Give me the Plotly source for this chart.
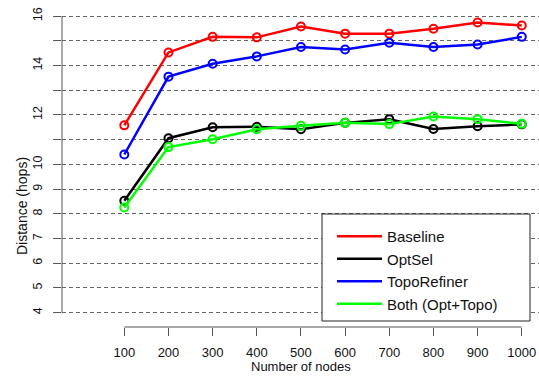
import plotly.graph_objects as go

# ---- data ----
nodes = [100, 200, 300, 400, 500, 600, 700, 800, 900, 1000]
baseline = [11.58, 14.53, 15.16, 15.14, 15.58, 15.29, 15.29, 15.49, 15.74, 15.62]
optsel = [8.53, 11.06, 11.50, 11.52, 11.42, 11.68, 11.83, 11.43, 11.54, 11.62]
toporefiner = [10.40, 13.55, 14.07, 14.37, 14.75, 14.65, 14.92, 14.75, 14.85, 15.16]
both = [8.26, 10.70, 11.02, 11.42, 11.56, 11.68, 11.63, 11.94, 11.83, 11.64]

series_names = ["Baseline", "OptSel", "TopoRefiner", "Both (Opt+Topo)"]
series_values = [baseline, optsel, toporefiner, both]
series_colors = ["#FF0000", "#000000", "#0000FF", "#00FF00"]

y_tickvals = list(range(4, 17))
y_ticktext = ["" if v in (11, 13, 15) else str(v) for v in y_tickvals]

x_title = "Number of nodes"
y_title = "Distance (hops)"

FONT = "Liberation Sans, Arial, Helvetica, sans-serif"
AXIS_GRAY = "#555555"

fig = go.Figure()
for name, vals, col in zip(series_names, series_values, series_colors):
    fig.add_trace(go.Scatter(
        x=nodes, y=vals, mode="lines", name=name,
        line=dict(color=col, width=2.5), showlegend=True,
    ))
    fig.add_trace(go.Scatter(
        x=nodes, y=vals, mode="markers", name=name, showlegend=False,
        marker=dict(symbol="circle-open", size=8, color=col,
                    line=dict(color=col, width=2)),
    ))

fig.update_layout(
    width=539, height=378,
    margin=dict(l=62, r=0, t=4, b=51, pad=0),
    paper_bgcolor="white", plot_bgcolor="white",
    font=dict(family=FONT, color="#111111"),
    showlegend=True,
    legend=dict(
        x=(332 - 62) / 477, y=(327 - 220) / 323,
        xanchor="left", yanchor="top",
        bgcolor="rgba(0,0,0,0)", borderwidth=0,
        font=dict(size=15, family=FONT, color="#111111"),
        tracegroupgap=0, itemwidth=45,
    ),
    xaxis=dict(
        range=[-41.1, 1039], tickmode="array", tickvals=nodes,
        ticktext=[str(v) for v in nodes],
        ticks="outside", ticklen=8, tickcolor=AXIS_GRAY, tickwidth=1,
        showgrid=False, zeroline=False, showline=False,
        tickfont=dict(size=13, family=FONT, color="#111111"),
        ticklabelstandoff=5,
    ),
    yaxis=dict(
        range=[3.42, 16.49], tickmode="array", tickvals=y_tickvals,
        ticktext=y_ticktext, tickangle=-90,
        ticks="outside", ticklen=8, tickcolor=AXIS_GRAY, tickwidth=1,
        showgrid=True, gridcolor="#666666", gridwidth=1, griddash="4px,3px",
        zeroline=False, showline=False,
        tickfont=dict(size=12.5, family=FONT, color="#111111"),
        ticklabelstandoff=6,
    ),
    shapes=[
        dict(type="line", xref="paper", yref="y", x0=0, x1=0,
             y0=y_tickvals[0], y1=y_tickvals[-1],
             line=dict(color=AXIS_GRAY, width=1)),
        dict(type="line", xref="x", yref="paper", x0=nodes[0], x1=nodes[-1],
             y0=0, y1=0, line=dict(color=AXIS_GRAY, width=1)),
        dict(type="rect", xref="paper", yref="paper",
             x0=(322 - 62) / 477, x1=(530 - 62) / 477,
             y0=(327 - 321) / 323, y1=(327 - 214) / 323,
             fillcolor="white", line=dict(color="#222222", width=1),
             layer="above"),
    ],
    annotations=[
        dict(text=x_title, xref="paper", yref="paper",
             x=(301 - 62) / 477, y=(327 - 366) / 323,
             xanchor="center", yanchor="middle", showarrow=False,
             font=dict(size=13, family=FONT, color="#111111")),
        dict(text=y_title, xref="paper", yref="paper",
             x=(22 - 62) / 477, y=(327 - 206) / 323, textangle=-90,
             xanchor="center", yanchor="middle", showarrow=False,
             font=dict(size=14, family=FONT, color="#111111")),
    ],
)

fig.write_html("out.html")
